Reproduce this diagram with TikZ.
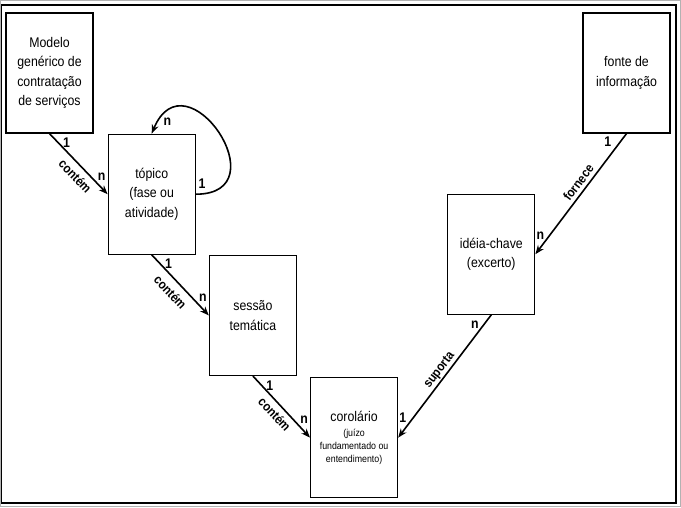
\documentclass[tikz,border=0pt]{standalone}
\usepackage{fontspec}
\setmainfont[FakeStretch=0.88]{Liberation Sans}
\usetikzlibrary{arrows.meta,positioning}
\newcommand\glossfont{\fontsize{10}{13}\selectfont}
\tikzset{
  entity/.style={draw, line width=1.2pt, minimum width=87pt, minimum height=120pt, inner sep=0pt, align=center, font=\fontsize{14}{19.5}\selectfont},
  rel/.style={-{Stealth[length=9pt,width=7pt]}, line width=1.6pt},
  card/.style={font=\fontsize{14}{16}\selectfont\bfseries, inner sep=1pt},
  relname/.style={sloped, font=\fontsize{13}{15}\selectfont\bfseries},
  frame/.style={line width=1.3pt}
}

\begin{document}
\begin{tikzpicture}[x=1pt, y=-1pt]
  \useasboundingbox (0,0) rectangle (681,507);
  \draw[gray!60, line width=0.8pt] (0.5,0.5) rectangle (680.5,506.5);
  \draw[frame] (1.5,5) rectangle (676,503);

  % left staircase
  \node[entity] (modelo) at (49.5,73) {Modelo\\genérico de\\contratação\\de serviços};
  \node[entity, below right=0pt and 14pt of modelo] (topico) {tópico\\(fase ou\\atividade)};
  \node[entity, below right=0pt and 13pt of topico] (sessao) {sessão\\temática};
  \node[entity, below right=1pt and 13pt of sessao] (corolario)
    {corolário\\[-4.5pt]{\glossfont (juízo}\\[-6.5pt]{\glossfont fundamentado ou}\\[-6.5pt]{\glossfont entendimento)}};

  % right branch
  \node[entity] (fonte) at (626.5,73) {fonte de\\informação};
  \node[entity, below left=60pt and 47pt of fonte] (ideia) {idéia-chave\\(excerto)};

  \draw[rel] (modelo.south) -- node[card, pos=0.15, right=3pt]{1}
    node[relname, pos=0.58, below=2pt]{contém}
    node[card, pos=0.8, above right]{n} (topico.west);
  \draw[rel] (topico.east) .. controls +(86,0) and +(34,-82) .. (topico.north)
    node[card, pos=0, above right=4pt and 1pt]{1}
    node[card, pos=1, above right=6pt and 10pt]{n};
  \draw[rel] (topico.south) -- node[card, pos=0.15, right=3pt]{1}
    node[relname, pos=0.48, below=3pt]{contém}
    node[card, pos=0.8, above right]{n} (sessao.west);
  \draw[rel] (sessao.south) -- node[card, pos=0.15, right=3pt]{1}
    node[relname, pos=0.51, below=1pt]{contém}
    node[card, pos=0.8, above right]{n} (corolario.west);
  \draw[rel] (fonte.south) -- node[card, pos=0.07, left=7pt]{1}
    node[relname, pos=0.45, above]{fornece}
    node[card, pos=0.85, left=3pt]{n} (ideia.east);
  \draw[rel] (ideia.south) -- node[card, pos=0.08, left=3.5pt]{n}
    node[relname, pos=0.49, above, inner sep=1pt]{suporta}
    node[card, pos=0.84, left=5pt]{1} (corolario.east);
\end{tikzpicture}
\end{document}
